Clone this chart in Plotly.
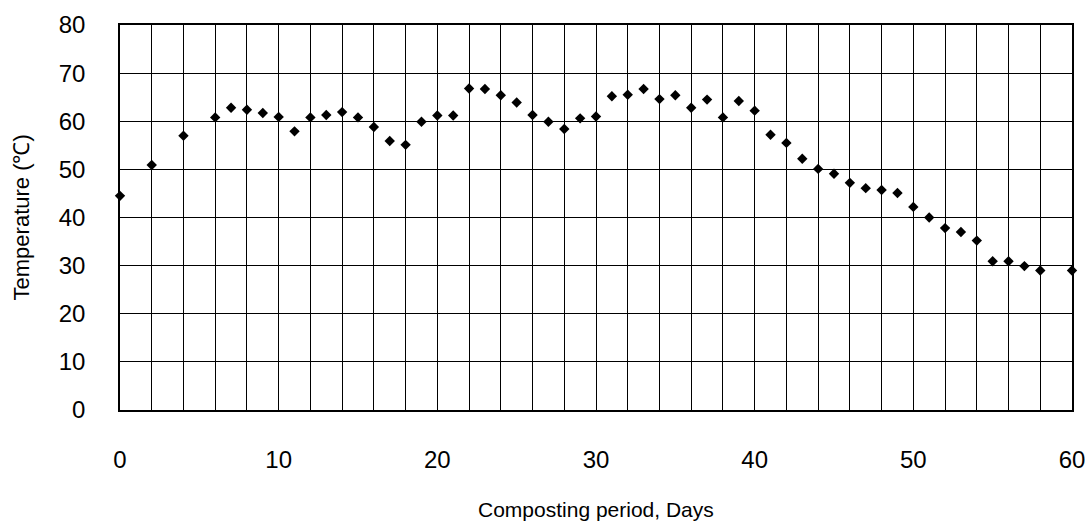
import plotly.graph_objects as go

days = [0, 2, 4, 6, 7, 8, 9, 10, 11, 12, 13, 14, 15, 16, 17, 18, 19, 20,
        21, 22, 23, 24, 25, 26, 27, 28, 29, 30, 31, 32, 33, 34, 35, 36, 37,
        38, 39, 40, 41, 42, 43, 44, 45, 46, 47, 48, 49, 50, 51, 52, 53, 54,
        55, 56, 57, 58, 60]
temperature = [44.5, 50.9, 57.0, 60.8, 62.8, 62.4, 61.7, 60.9, 57.9, 60.8,
               61.3, 61.9, 60.8, 58.8, 55.9, 55.1, 59.9, 61.2, 61.2, 66.8,
               66.7, 65.4, 63.9, 61.3, 59.9, 58.4, 60.6, 61.0, 65.2, 65.5,
               66.7, 64.6, 65.4, 62.8, 64.5, 60.8, 64.2, 62.2, 57.2, 55.5,
               52.2, 50.1, 49.1, 47.2, 46.1, 45.7, 45.1, 42.2, 40.0, 37.8,
               37.0, 35.2, 30.9, 30.9, 29.9, 29.0, 29.0]

x_ticks = [0, 10, 20, 30, 40, 50, 60]
y_ticks = [0, 10, 20, 30, 40, 50, 60, 70, 80]

font_family = "Liberation Sans, Arial, sans-serif"

fig = go.Figure()
fig.add_trace(go.Scatter(
    x=days, y=temperature, mode="markers",
    marker=dict(symbol="diamond", size=8, color="black"),
    cliponaxis=False, showlegend=False,
))

fig.update_layout(
    width=1085, height=524,
    margin=dict(l=120, r=13, t=25, b=114),
    paper_bgcolor="white", plot_bgcolor="white",
    font=dict(family=font_family, color="black", size=24),
    annotations=[
        dict(text="Composting period, Days", xref="paper", yref="paper",
             x=0.5, y=-0.258, xanchor="center", yanchor="middle",
             showarrow=False,
             font=dict(size=21, family=font_family, color="black")),
        dict(text="Temperature (℃)", xref="paper", yref="paper",
             x=-0.103, y=0.5, xanchor="center", yanchor="middle",
             textangle=-90, showarrow=False,
             font=dict(size=22, family=font_family, color="black")),
    ],
)
fig.update_xaxes(
    range=[0, 60], tickvals=x_ticks, ticktext=[str(v) for v in x_ticks],
    showgrid=False, zeroline=False, automargin=False,
    showline=True, linecolor="black", linewidth=1.5, mirror=True,
    ticks="", ticklabelstandoff=27, ticklabeloverflow="allow",
    minor=dict(dtick=2, tick0=0, showgrid=True, gridcolor="black", gridwidth=1),
)
fig.update_yaxes(
    range=[0, 80], tickvals=y_ticks, ticktext=[str(v) for v in y_ticks],
    showgrid=True, gridcolor="black", gridwidth=1, zeroline=False,
    automargin=False,
    showline=True, linecolor="black", linewidth=1.5, mirror=True,
    ticks="", ticklabelstandoff=28,
)

fig.write_html(
    "out.html",
    config={"displayModeBar": False},
    post_script="document.body.style.margin='0';document.body.style.overflow='hidden';",
)
